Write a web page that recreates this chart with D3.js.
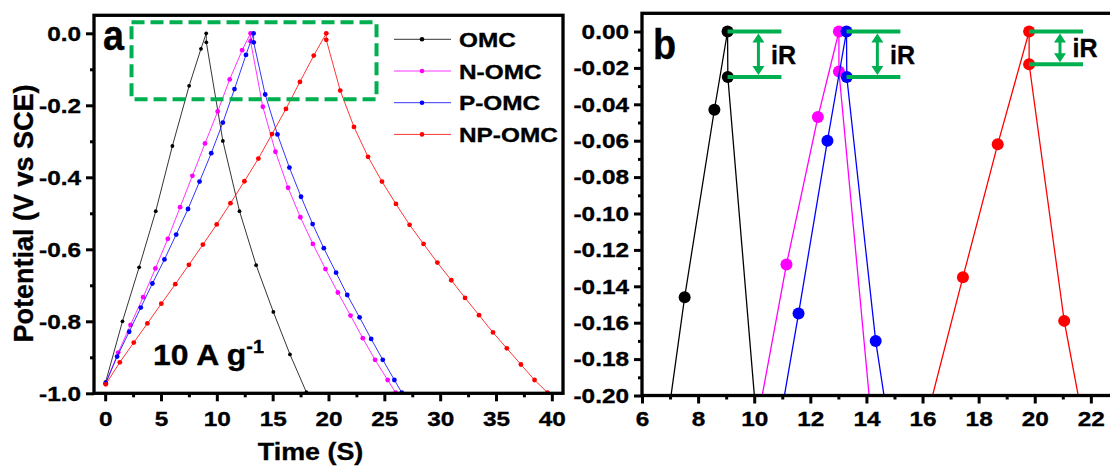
<!DOCTYPE html>
<html lang="en">
<head>
<meta charset="UTF-8">
<title>Galvanostatic charge-discharge curves</title>
<script src="https://d3js.org/d3.v7.min.js"></script>
<style>
  body { margin: 0; background: #ffffff; }
  svg text { font-family: Arial, "Liberation Sans", sans-serif; font-weight: bold; fill: #000; stroke: #000; stroke-width: 0.35px; }
</style>
</head>
<body>
<svg id="chart" width="1110" height="468"></svg>
<script>
// ---- data ----
var seriesNames = ["OMC", "N-OMC", "P-OMC", "NP-OMC"];
var seriesColors = ["#000000", "#ff00ff", "#0000ff", "#ff0000"];

var omcTime = [0.05, 1.55, 3.04, 4.53, 6.02, 7.52, 8.58, 9.05, 9.06, 10.54, 12.03, 13.52, 15.06, 16.55, 18.02];
var omcPot  = [-0.968, -0.80, -0.65, -0.494, -0.313, -0.146, -0.043, 0.0, -0.025, -0.299, -0.494, -0.644, -0.774, -0.892, -0.997];

var nomcTime = [0.05, 1.17, 2.27, 3.4, 4.5, 5.61, 6.71, 7.81, 8.94, 10.08, 11.15, 12.27, 13.02, 13.02, 14.12, 15.25, 16.38, 17.48, 18.6, 19.73, 20.84, 21.97, 23.07, 24.17, 25.3, 26.01];
var nomcPot  = [-0.972, -0.887, -0.81, -0.733, -0.653, -0.571, -0.483, -0.396, -0.306, -0.217, -0.128, -0.047, 0.0, -0.022, -0.204, -0.329, -0.429, -0.511, -0.585, -0.655, -0.72, -0.784, -0.847, -0.907, -0.963, -0.998];

var pomcTime = [0.05, 1.07, 2.15, 3.19, 4.23, 5.31, 6.36, 7.42, 8.45, 9.5, 10.54, 11.58, 12.61, 13.29, 13.3, 14.33, 15.43, 16.5, 17.54, 18.58, 19.58, 20.68, 21.68, 22.78, 23.82, 24.86, 25.9, 26.56];
var pomcPot  = [-0.972, -0.898, -0.829, -0.762, -0.695, -0.628, -0.559, -0.488, -0.412, -0.333, -0.248, -0.155, -0.06, 0.0, -0.025, -0.170, -0.281, -0.373, -0.454, -0.53, -0.597, -0.665, -0.727, -0.789, -0.849, -0.907, -0.963, -0.998];

var npomcTime = [0.05, 1.31, 2.56, 3.78, 5.03, 6.28, 7.5, 8.75, 9.99, 11.22, 12.47, 13.72, 14.94, 16.19, 17.44, 18.68, 19.8, 19.8, 21.05, 22.28, 23.54, 24.79, 26.04, 27.26, 28.51, 29.75, 31.0, 32.23, 33.48, 34.73, 35.97, 37.23, 38.45, 39.61];
var npomcPot  = [-0.975, -0.914, -0.859, -0.806, -0.751, -0.697, -0.643, -0.587, -0.531, -0.472, -0.411, -0.348, -0.28, -0.21, -0.135, -0.062, 0.0, -0.018, -0.159, -0.26, -0.343, -0.412, -0.474, -0.532, -0.585, -0.637, -0.686, -0.735, -0.783, -0.831, -0.875, -0.92, -0.963, -0.998];

// tick labels
var aXTicks = [0, 5, 10, 15, 20, 25, 30, 35, 40];
var aXMinor = [2.5, 7.5, 12.5, 17.5, 22.5, 27.5, 32.5, 37.5];
var aYTicks = [0.0, -0.2, -0.4, -0.6, -0.8, -1.0];
var aYMinor = [-0.1, -0.3, -0.5, -0.7, -0.9];
var bXTicks = [6, 8, 10, 12, 14, 16, 18, 20, 22];
var bXMinor = [7, 9, 11, 13, 15, 17, 19, 21];
var bYTicks = [0.0, -0.02, -0.04, -0.06, -0.08, -0.10, -0.12, -0.14, -0.16, -0.18, -0.20];
var bYMinor = [-0.01, -0.03, -0.05, -0.07, -0.09, -0.11, -0.13, -0.15, -0.17, -0.19];

// zoom window marked in panel a (data units)
var zoomBoxTime = [2.36, 24.3];
var zoomBoxPot = [0.031, -0.183];
// series that get an iR marker in panel b
var iRSeries = [0, 2, 3];

var series = [
    {time: omcTime, pot: omcPot},
    {time: nomcTime, pot: nomcPot},
    {time: pomcTime, pot: pomcPot},
    {time: npomcTime, pot: npomcPot}
].map(function(s, i) {
    return {
        name: seriesNames[i],
        color: seriesColors[i],
        pts: s.time.map(function(t, j) { return {t: t, v: s.pot[j]}; })
    };
});

var svg = d3.select("#chart");
var green = "#00b050";
var STRETCH = 1.16;
var loc = d3.formatLocale({decimal: ".", thousands: ",", grouping: [3], currency: ["", ""], minus: "-"});

// wider-looking text like the original export
function stretch(sel, k) {
    sel.each(function() {
        var t = d3.select(this);
        var x = +t.attr("x") || 0;
        t.attr("x", x / k).attr("transform", "scale(" + k + ",1)");
    });
}

function drawPanel(p) {
    var x = d3.scaleLinear().domain(p.xDomain).range(p.xRange);
    var y = d3.scaleLinear().domain(p.yDomain).range(p.yRange);
    var g = svg.append("g");

    g.append("clipPath").attr("id", p.id)
        .append("rect")
        .attr("x", p.xRange[0]).attr("y", p.yRange[1])
        .attr("width", p.xRange[1] - p.xRange[0])
        .attr("height", p.yRange[0] - p.yRange[1]);

    // axes (ticks outward, thick)
    var yAx = g.append("g").attr("transform", "translate(" + p.xRange[0] + ",0)")
        .call(d3.axisLeft(y).tickValues(p.yTicks).tickSize(8).tickPadding(5).tickFormat(loc.format(p.yFmt)));
    g.append("g").attr("transform", "translate(" + p.xRange[0] + ",0)")
        .call(d3.axisLeft(y).tickValues(p.yMinor).tickSize(4).tickFormat(""));
    var xAx = g.append("g").attr("transform", "translate(0," + p.yRange[0] + ")")
        .call(d3.axisBottom(x).tickValues(p.xTicks).tickSize(8).tickPadding(p.xPad).tickFormat(loc.format("d")));
    g.append("g").attr("transform", "translate(0," + p.yRange[0] + ")")
        .call(d3.axisBottom(x).tickValues(p.xMinor).tickSize(4).tickFormat(""));

    g.selectAll(".domain").remove();
    g.selectAll(".tick line").attr("stroke", "#000").attr("stroke-width", 3);
    g.selectAll(".tick text").style("font-size", "21px").attr("fill", "#000");
    stretch(yAx.selectAll(".tick text"), STRETCH);
    stretch(xAx.selectAll(".tick text"), STRETCH);

    var plot = g.append("g").attr("clip-path", "url(#" + p.id + ")");
    var line = d3.line().x(function(d) { return x(d.t); }).y(function(d) { return y(d.v); });

    if (p.before) p.before(g, x, y);

    series.forEach(function(s, i) {
        plot.append("path")
            .datum(s.pts)
            .attr("fill", "none")
            .attr("stroke", s.color)
            .attr("stroke-width", p.lineW)
            .attr("d", line);
        plot.selectAll(null)
            .data(s.pts.filter(function(d) {
                return d.v >= p.yDomain[0] - 0.001 && d.t >= p.xDomain[0] && d.t <= p.xDomain[1];
            }))
            .enter().append("circle")
            .attr("cx", function(d) { return x(d.t); })
            .attr("cy", function(d) { return y(d.v); })
            .attr("r", p.markerR[i])
            .attr("fill", s.color);
    });

    // frame
    g.append("rect")
        .attr("x", p.xRange[0]).attr("y", p.yRange[1])
        .attr("width", p.xRange[1] - p.xRange[0])
        .attr("height", p.yRange[0] - p.yRange[1])
        .attr("fill", "none").attr("stroke", "#000").attr("stroke-width", 3.3);

    return {x: x, y: y, g: g};
}

// ---------- panel a ----------
var A = drawPanel({
    id: "clipA",
    xDomain: [-1, 41], xRange: [94, 563],
    yDomain: [-1, 0.05], yRange: [393.3, 15.3],
    xTicks: aXTicks, xMinor: aXMinor, yTicks: aYTicks, yMinor: aYMinor,
    yFmt: ".1f", xPad: 10,
    lineW: 0.8, markerR: [1.9, 2.4, 2.4, 2.4]
});

A.g.append("rect")
    .attr("x", A.x(zoomBoxTime[0])).attr("y", A.y(zoomBoxPot[0]))
    .attr("width", A.x(zoomBoxTime[1]) - A.x(zoomBoxTime[0]))
    .attr("height", A.y(zoomBoxPot[1]) - A.y(zoomBoxPot[0]))
    .attr("fill", "none").attr("stroke", green)
    .attr("stroke-width", 4).attr("stroke-dasharray", "13,6");

A.g.append("text").attr("x", 103).attr("y", 50)
    .style("font-size", "42px").attr("transform", "scale(0.9,1)")
    .attr("x", 103 / 0.9).text("a");

var rate = A.g.append("text").attr("x", 153).attr("y", 365).style("font-size", "29px");
rate.append("tspan").text("10 A g");
rate.append("tspan").attr("dy", -12).style("font-size", "18px").text("-1");
stretch(rate, 1.1);

// legend
var legend = A.g.append("g");
series.forEach(function(s, i) {
    var ly = 39.3 + i * 31.7;
    legend.append("line")
        .attr("x1", 394).attr("x2", 451).attr("y1", ly).attr("y2", ly)
        .attr("stroke", s.color).attr("stroke-width", 0.8);
    legend.append("circle").attr("cx", 422).attr("cy", ly).attr("r", 2.3).attr("fill", s.color);
    var t = legend.append("text").attr("x", 459).attr("y", ly).attr("dy", "0.36em")
        .style("font-size", "21px").text(s.name);
    stretch(t, STRETCH);
});

// axis titles
var xt = svg.append("text").attr("x", 310.5).attr("y", 460)
    .attr("text-anchor", "middle").style("font-size", "24px").text("Time (S)");
stretch(xt, 1.12);
svg.append("text")
    .attr("transform", "translate(33,213.5) rotate(-90)")
    .attr("text-anchor", "middle").style("font-size", "27px")
    .text("Potential (V vs SCE)");

// ---------- panel b ----------
drawPanel({
    id: "clipB",
    xDomain: [6, 23], xRange: [642, 1118.9],
    yDomain: [-0.2, 0.01], yRange: [395.5, 13.3],
    xTicks: bXTicks, xMinor: bXMinor, yTicks: bYTicks, yMinor: bYMinor,
    yFmt: ".2f", xPad: 8,
    lineW: 1.3, markerR: [6, 6, 6, 6],
    before: function(g, x, y) {
        g.append("text").attr("x", 653 / 0.9).attr("y", 59)
            .attr("transform", "scale(0.9,1)")
            .style("font-size", "42px").text("b");
        iRSeries.forEach(function(si) {
            var pts = series[si].pts;
            var peak = d3.maxIndex(pts, function(d) { return d.v; });
            var t0 = pts[peak].t, yTop = y(pts[peak].v), yBot = y(pts[peak + 1].v);
            var ir = g.append("g");
            [yTop, yBot].forEach(function(yy) {
                ir.append("line")
                    .attr("x1", x(t0)).attr("x2", x(t0 + 1.92))
                    .attr("y1", yy).attr("y2", yy)
                    .attr("stroke", green).attr("stroke-width", 4);
            });
            var ax = x(t0 + 1.1), hw = 6, hl = 9;
            ir.append("line").attr("x1", ax).attr("x2", ax)
                .attr("y1", yTop + hl).attr("y2", yBot - hl)
                .attr("stroke", green).attr("stroke-width", 3);
            ir.append("path")
                .attr("d", "M" + ax + "," + (yTop + 2) + "L" + (ax - hw) + "," + (yTop + 2 + hl) + "L" + (ax + hw) + "," + (yTop + 2 + hl) + "Z" +
                           "M" + ax + "," + (yBot - 2) + "L" + (ax - hw) + "," + (yBot - 2 - hl) + "L" + (ax + hw) + "," + (yBot - 2 - hl) + "Z")
                .attr("fill", green);
            ir.append("text")
                .attr("x", x(t0 + 1.55)).attr("y", (yTop + yBot) / 2 + 9.5)
                .style("font-size", "25px").text("iR");
        });
    }
});
</script>
</body>
</html>
